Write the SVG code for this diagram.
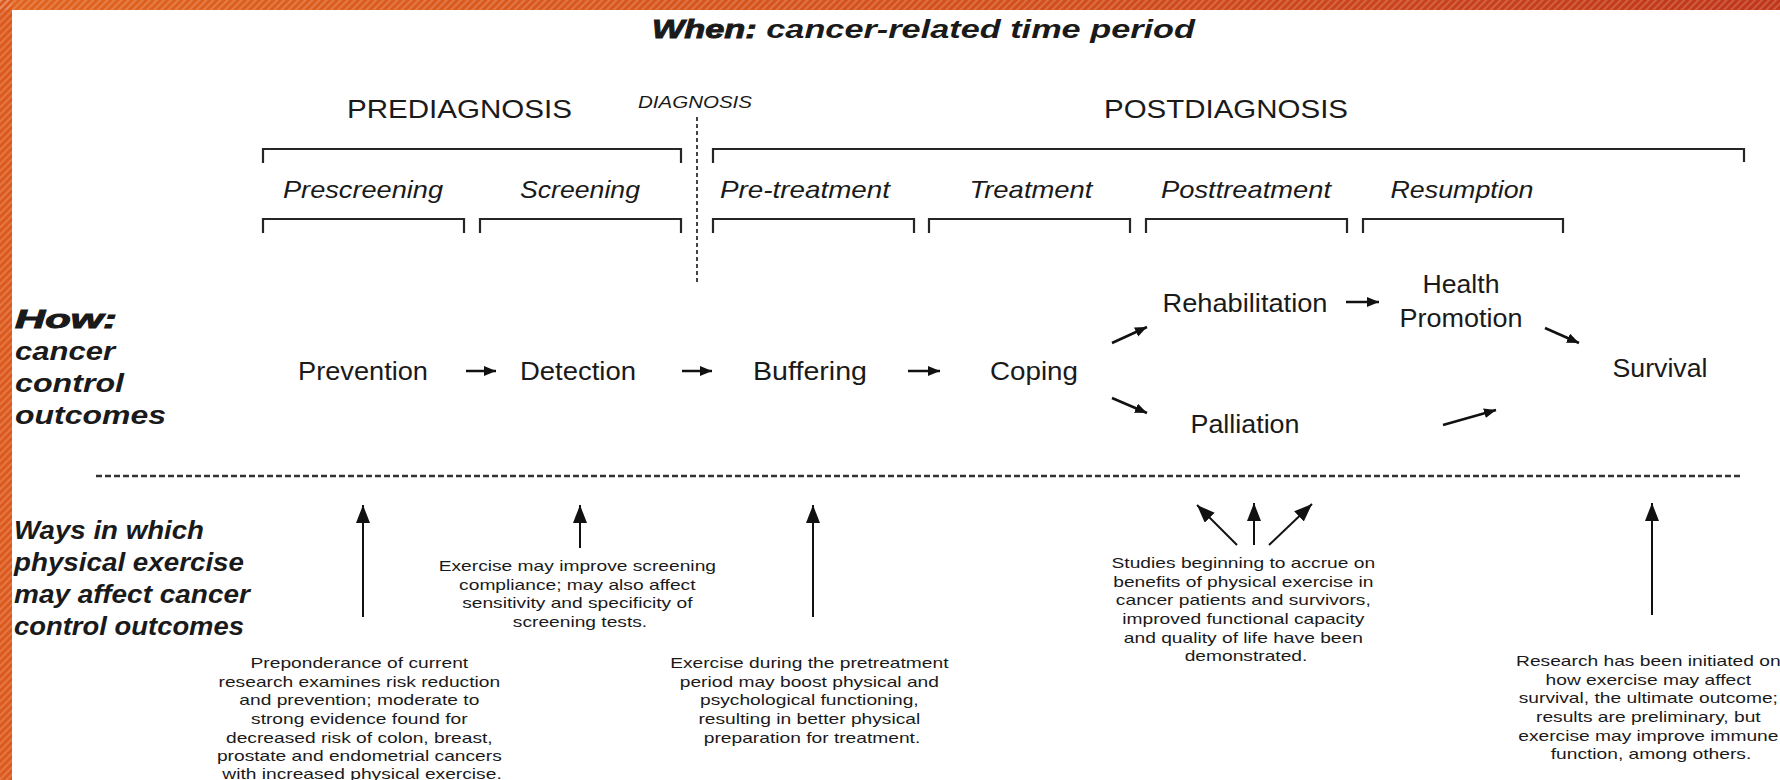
<svg xmlns="http://www.w3.org/2000/svg" width="1780" height="780" viewBox="0 0 1780 780">
  <defs>
    <linearGradient id="topgrad" x1="0" y1="0" x2="1" y2="0">
      <stop offset="0" stop-color="#E0641F"/>
      <stop offset="0.6" stop-color="#D24E1C"/>
      <stop offset="1" stop-color="#C0361A"/>
    </linearGradient>
    <pattern id="stripes" width="5" height="5" patternUnits="userSpaceOnUse" patternTransform="rotate(45)">
      <rect width="2" height="5" fill="#ffffff" opacity="0.18"/>
    </pattern>
    <marker id="ahs" markerUnits="userSpaceOnUse" markerWidth="14" markerHeight="12" refX="12" refY="5" orient="auto">
      <path d="M0,0 L12,5 L0,10 z" fill="#111"/>
    </marker>
    <marker id="ahb" markerUnits="userSpaceOnUse" markerWidth="20" markerHeight="16" refX="18" refY="7" orient="auto">
      <path d="M0,0 L18,7 L0,14 z" fill="#111"/>
    </marker>
    <style>
      .t { font-family: "Liberation Sans", Arial, sans-serif; fill: #1a1a1a; }
      .hdr { font-size: 25px; }
      .sub { font-size: 24px; font-style: italic; }
      .node { font-size: 25px; }
      .side { font-size: 26px; font-style: italic; font-weight: bold; }
      .small { font-size: 15px; }
      .br { fill: none; stroke: #262626; stroke-width: 2.2; }
      .ar { fill: none; stroke: #111; stroke-width: 2.5; marker-end: url(#ahs); }
      .arb { fill: none; stroke: #111; stroke-width: 2; marker-end: url(#ahb); }
    </style>
  </defs>

  <!-- background and frame -->
  <rect x="0" y="0" width="1780" height="780" fill="#ffffff"/>
  <rect x="0" y="0" width="1780" height="10" fill="url(#topgrad)"/>
  <rect x="0" y="0" width="12" height="780" fill="#DC5A1D"/>
  <rect x="0" y="0" width="1780" height="10" fill="url(#stripes)"/>
  <rect x="0" y="0" width="12" height="780" fill="url(#stripes)"/>

  <!-- title -->
  <g id="title">
    <text class="t" x="652" y="38" font-size="25" font-style="italic" font-weight="bold" textLength="543" lengthAdjust="spacingAndGlyphs"><tspan stroke="#1a1a1a" stroke-width="0.9">When:</tspan> cancer-related time period</text>
  </g>

  <!-- phase headers -->
  <g id="prediagnosis">
    <text class="t hdr" x="347" y="118" textLength="225" lengthAdjust="spacingAndGlyphs">PREDIAGNOSIS</text>
    <path class="br" d="M263,163 V149 H681 V163"/>
  </g>
  <g id="diagnosis">
    <text class="t" x="638" y="108" font-size="16" font-style="italic" textLength="114" lengthAdjust="spacingAndGlyphs">DIAGNOSIS</text>
    <line x1="697" y1="117" x2="697" y2="282" stroke="#444" stroke-width="2" stroke-dasharray="4,3"/>
  </g>
  <g id="postdiagnosis">
    <text class="t hdr" x="1104" y="118" textLength="244" lengthAdjust="spacingAndGlyphs">POSTDIAGNOSIS</text>
    <path class="br" d="M713,163 V149 H1744 V162"/>
  </g>

  <!-- sub periods -->
  <g id="prescreening">
    <text class="t sub" x="363" y="198" text-anchor="middle" textLength="160" lengthAdjust="spacingAndGlyphs">Prescreening</text>
    <path class="br" d="M263,233 V219 H464 V233"/>
  </g>
  <g id="screening">
    <text class="t sub" x="580" y="198" text-anchor="middle" textLength="120" lengthAdjust="spacingAndGlyphs">Screening</text>
    <path class="br" d="M480,233 V219 H681 V233"/>
  </g>
  <g id="pretreatment">
    <text class="t sub" x="805" y="198" text-anchor="middle" textLength="170" lengthAdjust="spacingAndGlyphs">Pre-treatment</text>
    <path class="br" d="M713,233 V219 H914 V233"/>
  </g>
  <g id="treatment">
    <text class="t sub" x="1031" y="198" text-anchor="middle" textLength="123" lengthAdjust="spacingAndGlyphs">Treatment</text>
    <path class="br" d="M929,233 V219 H1130 V233"/>
  </g>
  <g id="posttreatment">
    <text class="t sub" x="1246" y="198" text-anchor="middle" textLength="170" lengthAdjust="spacingAndGlyphs">Posttreatment</text>
    <path class="br" d="M1146,233 V219 H1347 V233"/>
  </g>
  <g id="resumption">
    <text class="t sub" x="1462" y="198" text-anchor="middle" textLength="143" lengthAdjust="spacingAndGlyphs">Resumption</text>
    <path class="br" d="M1363,233 V219 H1563 V233"/>
  </g>

  <!-- side labels -->
  <g id="how-label">
    <text class="t side" x="15" y="328" textLength="102" lengthAdjust="spacingAndGlyphs" stroke="#1a1a1a" stroke-width="1">How:</text>
    <text class="t side" x="15" y="360" textLength="100" lengthAdjust="spacingAndGlyphs">cancer</text>
    <text class="t side" x="15" y="392" textLength="109" lengthAdjust="spacingAndGlyphs">control</text>
    <text class="t side" x="15" y="424" textLength="151" lengthAdjust="spacingAndGlyphs">outcomes</text>
  </g>
  <g id="ways-label">
    <text class="t side" x="14" y="539" textLength="190" lengthAdjust="spacingAndGlyphs">Ways in which</text>
    <text class="t side" x="14" y="571" textLength="230" lengthAdjust="spacingAndGlyphs">physical exercise</text>
    <text class="t side" x="14" y="603" textLength="236" lengthAdjust="spacingAndGlyphs">may affect cancer</text>
    <text class="t side" x="14" y="635" textLength="230" lengthAdjust="spacingAndGlyphs">control outcomes</text>
  </g>

  <!-- outcome nodes -->
  <g id="prevention"><text class="t node" x="363" y="380" text-anchor="middle" textLength="130" lengthAdjust="spacingAndGlyphs">Prevention</text></g>
  <g id="detection"><text class="t node" x="578" y="380" text-anchor="middle" textLength="116" lengthAdjust="spacingAndGlyphs">Detection</text></g>
  <g id="buffering"><text class="t node" x="810" y="380" text-anchor="middle" textLength="114" lengthAdjust="spacingAndGlyphs">Buffering</text></g>
  <g id="coping"><text class="t node" x="1034" y="380" text-anchor="middle" textLength="88" lengthAdjust="spacingAndGlyphs">Coping</text></g>
  <g id="rehabilitation"><text class="t node" x="1245" y="312" text-anchor="middle" textLength="165" lengthAdjust="spacingAndGlyphs">Rehabilitation</text></g>
  <g id="health-promotion">
    <text class="t node" x="1461" y="293" text-anchor="middle" textLength="77" lengthAdjust="spacingAndGlyphs">Health</text>
    <text class="t node" x="1461" y="327" text-anchor="middle" textLength="123" lengthAdjust="spacingAndGlyphs">Promotion</text>
  </g>
  <g id="palliation"><text class="t node" x="1245" y="433" text-anchor="middle" textLength="109" lengthAdjust="spacingAndGlyphs">Palliation</text></g>
  <g id="survival"><text class="t node" x="1660" y="377" text-anchor="middle" textLength="95" lengthAdjust="spacingAndGlyphs">Survival</text></g>

  <!-- separator -->
  <line x1="96" y1="476" x2="1741" y2="476" stroke="#333" stroke-width="2.5" stroke-dasharray="6,3"/>

  <!-- evidence notes -->
  <g id="note-prevention" transform="translate(362,0) scale(1.28,1)">
    <text class="t small" text-anchor="middle">
      <tspan x="0" y="668">Preponderance of current</tspan>
      <tspan x="0" y="686.7">research examines risk reduction</tspan>
      <tspan x="0" y="705.4">and prevention; moderate to</tspan>
      <tspan x="0" y="724">strong evidence found for</tspan>
      <tspan x="0" y="742.8">decreased risk of colon, breast,</tspan>
      <tspan x="0" y="761.5">prostate and endometrial cancers</tspan>
      <tspan x="0" y="779">with increased physical exercise.</tspan>
    </text>
  </g>
  <g id="note-screening" transform="translate(580,0) scale(1.28,1)">
    <text class="t small" text-anchor="middle">
      <tspan x="0" y="571">Exercise may improve screening</tspan>
      <tspan x="0" y="589.7">compliance; may also affect</tspan>
      <tspan x="0" y="608.4">sensitivity and specificity of</tspan>
      <tspan x="0" y="627">screening tests.</tspan>
    </text>
  </g>
  <g id="note-pretreatment" transform="translate(812,0) scale(1.28,1)">
    <text class="t small" text-anchor="middle">
      <tspan x="0" y="668">Exercise during the pretreatment</tspan>
      <tspan x="0" y="686.7">period may boost physical and</tspan>
      <tspan x="0" y="705.4">psychological functioning,</tspan>
      <tspan x="0" y="724">resulting in better physical</tspan>
      <tspan x="0" y="742.8">preparation for treatment.</tspan>
    </text>
  </g>
  <g id="note-studies" transform="translate(1246,0) scale(1.28,1)">
    <text class="t small" text-anchor="middle">
      <tspan x="0" y="568">Studies beginning to accrue on</tspan>
      <tspan x="0" y="586.7">benefits of physical exercise in</tspan>
      <tspan x="0" y="605.4">cancer patients and survivors,</tspan>
      <tspan x="0" y="624">improved functional capacity</tspan>
      <tspan x="0" y="642.8">and quality of life have been</tspan>
      <tspan x="0" y="661.5">demonstrated.</tspan>
    </text>
  </g>
  <g id="note-survival" transform="translate(1651,0) scale(1.28,1)">
    <text class="t small" text-anchor="middle">
      <tspan x="0" y="666">Research has been initiated on</tspan>
      <tspan x="0" y="684.7">how exercise may affect</tspan>
      <tspan x="0" y="703.4">survival, the ultimate outcome;</tspan>
      <tspan x="0" y="722">results are preliminary, but</tspan>
      <tspan x="0" y="740.8">exercise may improve immune</tspan>
      <tspan x="0" y="759.5">function, among others.</tspan>
    </text>
  </g>

  <!-- connectors -->
  <g id="connectors">
    <path class="ar" d="M466,371 H496"/>
    <path class="ar" d="M682,371 H712"/>
    <path class="ar" d="M908,371 H940"/>
    <path class="ar" d="M1346,302 H1379"/>
    <path class="ar" d="M1112,343 L1147,327"/>
    <path class="ar" d="M1112,398 L1147,413"/>
    <path class="ar" d="M1545,328 L1579,343"/>
    <path class="ar" d="M1443,425 L1496,410"/>
    <path class="arb" d="M363,617 V505"/>
    <path class="arb" d="M580,548 V505"/>
    <path class="arb" d="M813,617 V505"/>
    <path class="arb" d="M1254,545 V503"/>
    <path class="arb" d="M1237,545 L1197,505"/>
    <path class="arb" d="M1269,545 L1312,504"/>
    <path class="arb" d="M1652,615 V503"/>
  </g>
</svg>
